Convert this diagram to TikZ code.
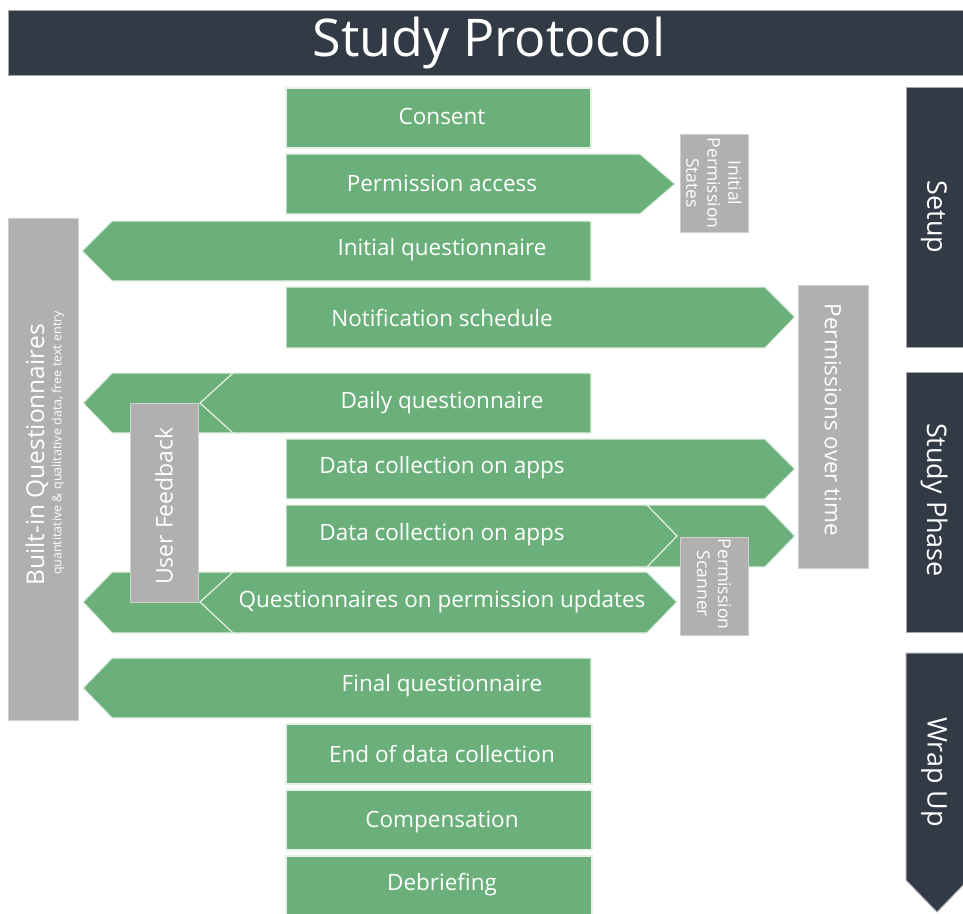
\documentclass[tikz,border=0pt]{standalone}
\usepackage{fontspec}
\setmainfont{Open Sans}

\definecolor{protgreen}{HTML}{6BB07A}
\definecolor{protedge}{HTML}{E6F2E8}
\definecolor{protgray}{HTML}{B0B0B0}
\definecolor{protdark}{HTML}{323A46}

\tikzset{
  greenshape/.style={fill=protgreen, draw=protedge, line width=1.2pt, line join=miter},
  grayshape/.style={fill=protgray, draw=protgray!60!white, line width=0.8pt},
  darkshape/.style={fill=protdark, draw=gray!70, line width=1pt},
  boxlabel/.style={text=white, inner sep=0pt, font=\fontsize{22.5}{26}\selectfont},
  sidelabel/.style={text=white, inner sep=0pt, align=center},
}

\begin{document}
\begin{tikzpicture}[x=1pt, y=-1pt]

      \useasboundingbox (0,0) rectangle (963,913);
      \clip (0,0) rectangle (963,913);

      % title
      \draw[darkshape] (8,10) rectangle (963,75);
      \node[text=white, inner sep=0pt, font=\fontsize{52}{60}\selectfont] (title) at (489,43) {Study Protocol};

      % phases
      \draw[darkshape] (906,87) rectangle (968,347);
      \draw[darkshape] (906,372) rectangle (968,632);
      \draw[darkshape] (906,653) -- (968,653) -- (968,880) -- (937,912) -- (906,880) -- cycle;
      \node[sidelabel, rotate=-90, font=\fontsize{27}{32}\selectfont] (setup) at (934,217) {Setup};
      \node[sidelabel, rotate=-90, font=\fontsize{27}{32}\selectfont] (study) at (934,500) {Study Phase};
      \node[sidelabel, rotate=-90, font=\fontsize{27}{32}\selectfont] (wrapup) at (934,772) {Wrap Up};

      % steps
      \draw[greenshape] (286,88) rectangle (591,148);
      \draw[greenshape] (286,154) -- (640,154) -- (675,184) -- (640,214) -- (286,214) -- cycle;
      \draw[greenshape] (82,251) -- (112,221) -- (591,221) -- (591,281) -- (112,281) -- cycle;
      \draw[greenshape] (286,287) -- (765,287) -- (795,317) -- (765,348) -- (286,348) -- cycle;

      \draw[greenshape] (83,403) -- (112,373) -- (240,373) -- (240,433) -- (112,433) -- cycle;
      \draw[greenshape] (200,403) -- (233,373) -- (591,373) -- (591,433) -- (233,433) -- cycle;
      \draw[greenshape] (286,439) -- (765,439) -- (795,469) -- (765,499) -- (286,499) -- cycle;
      \draw[greenshape] (640,505) -- (765,505) -- (795,536) -- (765,567) -- (640,567) -- cycle;
      \draw[greenshape] (286,505) -- (647,505) -- (677,536) -- (647,567) -- (286,567) -- cycle;
      \draw[greenshape] (83,602) -- (112,572) -- (240,572) -- (240,633) -- (112,633) -- cycle;
      \draw[greenshape] (200,602) -- (233,572) -- (647,572) -- (677,602) -- (647,633) -- (233,633) -- cycle;

      \draw[greenshape] (83,688) -- (112,658) -- (591,658) -- (591,718) -- (112,718) -- cycle;
      \draw[greenshape] (286,724) rectangle (592,784);
      \draw[greenshape] (286,790) rectangle (592,850);
      \draw[greenshape] (286,856) rectangle (592,918);

      \node[boxlabel] (consent) at (442,116) {Consent};
      \node[boxlabel] (access) at (442,183) {Permission access};
      \node[boxlabel] (initialq) at (442,250) {Initial questionnaire};
      \node[boxlabel] (schedule) at (442,318) {Notification schedule};
      \node[boxlabel] (dailyq) at (442,403) {Daily questionnaire};
      \node[boxlabel] (collectA) at (442,468) {Data collection on apps};
      \node[boxlabel] (collectB) at (442,535) {Data collection on apps};
      \node[boxlabel] (updateq) at (442,602) {Questionnaires on permission updates};
      \node[boxlabel] (finalq) at (442,686) {Final questionnaire};
      \node[boxlabel] (endcollect) at (442,754) {End of data collection};
      \node[boxlabel] (compensation) at (442,822) {Compensation};
      \node[boxlabel] (debriefing) at (442,885) {Debriefing};

      % side boxes
      \draw[grayshape] (8,218) rectangle (78,720);
      \draw[grayshape] (130,403) rectangle (198,602);
      \draw[grayshape] (680,134) rectangle (748,232);
      \draw[grayshape] (798,285) rectangle (868,568);
      \draw[grayshape] (680,537) rectangle (748,635);

      \node[sidelabel, rotate=90, font=\fontsize{24.5}{22}\selectfont] (builtin) at (37,455) {Built-in Questionnaires};
      \node[sidelabel, rotate=90, font=\fontsize{12.5}{14}\selectfont] (builtinsub) at (58,443) {quantitative \& qualitative data, free text entry};
      \node[sidelabel, rotate=90, font=\fontsize{23}{28}\selectfont] (feedback) at (164,506) {User Feedback};
      \node[sidelabel, rotate=-90, font=\fontsize{17.5}{21}\selectfont] (initstates) at (714,183) {Initial\\Permission\\States};
      \node[sidelabel, rotate=-90, font=\fontsize{22.5}{26}\selectfont] (overtime) at (833,420) {Permissions over time};
      \node[sidelabel, rotate=-90, font=\fontsize{17.5}{21}\selectfont] (scanner) at (714,584) {Permission\\Scanner};

    \end{tikzpicture}
\end{document}
